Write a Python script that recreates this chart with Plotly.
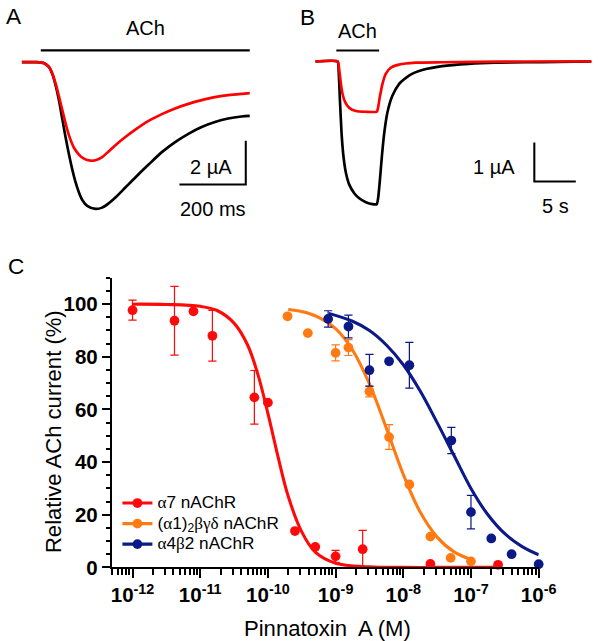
import plotly.graph_objects as go

# reference picture size and rendered figure size (the capture is scaled down by ~0.975)
REF_W, REF_H = 601, 641
W, H = 617, 657
S = W / REF_W

# ---------------- Panel A (time in ms, current in µA) ----------------
a_t_black = [0, 42, 67, 82, 92, 102, 112, 122, 132, 142, 152, 162, 172, 182, 197, 222, 242, 262, 282,
             312, 342, 382, 422, 462, 502, 542, 582, 622, 662, 687]
a_i_black = [0, 0, -0.05, -0.23, -0.54, -1.08, -1.77, -2.62, -3.46, -4.23, -4.92, -5.51, -5.97, -6.31,
             -6.58, -6.72, -6.66, -6.46, -6.20, -5.74, -5.28, -4.69, -4.12, -3.66, -3.28, -2.97, -2.74,
             -2.58, -2.49, -2.46]
a_t_red = [0, 42, 67, 82, 92, 102, 112, 122, 132, 142, 157, 172, 187, 207, 222, 242, 262, 282, 312,
           342, 382, 422, 462, 502, 542, 582, 622, 662, 687]
a_i_red = [0, 0, -0.05, -0.23, -0.54, -1.0, -1.58, -2.2, -2.82, -3.35, -3.92, -4.23, -4.42, -4.51,
           -4.49, -4.35, -4.08, -3.80, -3.43, -3.09, -2.69, -2.38, -2.12, -1.91, -1.74, -1.60, -1.51,
           -1.45, -1.42]
a_ach = [57, 687]          # ACh application (ms)
a_ach_level = 0.54
a_scale_ms = 200
a_scale_ua = 2
a_scale_anchor = [675, -5.6]   # corner of the scale bar (ms, µA)

# ---------------- Panel B (time in s, current in µA) ----------------
b_t_black = [0, 2.68, 2.8, 2.96, 3.16, 3.4, 3.68, 4.08, 4.68, 5.28, 6.08, 6.88, 7.4, 7.56, 7.76, 8.0,
             8.28, 8.68, 9.28, 10.08, 11.28, 12.88, 15.28, 18.48, 21.68, 25.28, 29.28, 33.28]
b_i_black = [0, 0, -0.23, -1.01, -1.87, -2.47, -2.86, -3.16, -3.38, -3.51, -3.61, -3.66, -3.66, -3.51,
             -3.08, -2.47, -1.87, -1.31, -0.88, -0.58, -0.36, -0.22, -0.12, -0.06, -0.03, -0.02, -0.01, 0]
b_t_red = [0, 2.68, 2.88, 3.08, 3.28, 3.6, 4.08, 4.88, 6.08, 7.4, 7.56, 7.76, 8.08, 8.48, 9.08, 10.08,
           12.08, 15.28, 19.28, 25.28, 33.28]
b_i_red = [0, 0, -0.23, -0.58, -0.84, -1.05, -1.19, -1.27, -1.29, -1.29, -1.18, -0.92, -0.58, -0.32,
           -0.16, -0.08, -0.03, -0.02, -0.01, 0, 0]
b_ach = [2.52, 7.68]
b_ach_level = 0.284
b_scale_s = 5
b_scale_ua = 1
b_scale_anchor = [26.4, -3.08]

# ---------------- Panel C (log10 concentration, % current) ----------------
a7_log = [-12.0, -11.38, -11.1, -10.82, -10.2, -10.0, -9.6, -9.3, -9.0, -8.6, -7.6, -6.6]
a7_pct = [97.7, 93.7, 97.3, 88.0, 64.6, 62.6, 13.8, 7.8, 4.2, 6.9, 1.3, 1.0]
a7_err = [3.8, 13.1, 0, 9.6, 10.2, 0, 0, 0, 2.3, 7.2, 0, 0]

a1_log = [-9.71, -9.41, -9.0, -8.81, -8.5, -8.21, -7.91, -7.6, -7.3, -7.0]
a1_pct = [95.4, 89.0, 81.5, 83.5, 66.8, 49.5, 31.5, 11.7, 3.6, 2.3]
a1_err = [0, 0, 3, 3, 2, 4.7, 0, 0, 0, 0]

a4_log = [-9.11, -8.81, -8.5, -8.21, -7.91, -7.29, -7.0, -6.7, -6.4, -6.0]
a4_pct = [94.4, 91.5, 74.9, 78.3, 76.8, 48.2, 21.0, 11.0, 5.0, 1.2]
a4_err = [3.1, 4.3, 6, 0, 8.7, 5, 6.4, 0, 0, 0]

# fitted curves
a7_fit_log = [-12, -11.5, -11, -10.75, -10.5, -10.3, -10.15, -10.0, -9.85, -9.7, -9.5, -9.3, -9.0,
              -8.5, -8.0, -7.5, -7.0, -6.6]
a7_fit_pct = [100, 99.9, 99.2, 97.6, 92.8, 84.5, 73.5, 58.5, 42, 27, 13.5, 5.8, 1.6, 0.2, 0, 0, 0, 0]
a1_fit_log = [-9.7, -9.5, -9.25, -9.0, -8.75, -8.5, -8.25, -8.0, -7.75, -7.5, -7.25, -7.0]
a1_fit_pct = [98.0, 97.2, 95.0, 90.7, 82.6, 69.7, 52.9, 35.3, 21.0, 11.5, 5.9, 3.0]
a4_fit_log = [-9.1, -8.75, -8.5, -8.25, -8.0, -7.75, -7.5, -7.25, -7.0, -6.75, -6.5, -6.25, -6.0]
a4_fit_pct = [96.5, 93.5, 90, 84.5, 77, 67, 55, 42.5, 30, 20, 12.8, 8, 4.8]

x_tick_vals = [1e-12, 1e-11, 1e-10, 1e-9, 1e-8, 1e-7, 1e-6]
x_tick_text = ["10<sup>-12</sup>", "10<sup>-11</sup>", "10<sup>-10</sup>", "10<sup>-9</sup>",
               "10<sup>-8</sup>", "10<sup>-7</sup>", "10<sup>-6</sup>"]
y_tick_vals = [0, 20, 40, 60, 80, 100]

LEG_FS = round(16.8 * S, 1)
SERIF = '<span style="font-family:Liberation Serif">'
legend_names = [SERIF + 'α</span>7 nAChR',
                '(' + SERIF + 'α</span>1)<sub>2</sub>' + SERIF + 'βγδ</span> nAChR',
                SERIF + 'α</span>4' + SERIF + 'β</span>2 nAChR']
names = [f'<span style="font-size:{LEG_FS}px">' + n + '</span>' for n in legend_names]
colors = ["#ff0a0a", "#ff7a12", "#0b1a86"]

RED = "#ff0000"
FONT = "Liberation Sans, Arial, sans-serif"


def px_x(p):
    return p / REF_W


def px_y(p):
    return 1 - p / REF_H


fig = go.Figure()

LW = 2.6 * S
# Panel A
fig.add_trace(go.Scatter(x=a_t_black, y=a_i_black, mode="lines",
                         line=dict(color="black", width=LW, shape="spline", smoothing=0.8),
                         xaxis="x2", yaxis="y2", showlegend=False, hoverinfo="skip"))
fig.add_trace(go.Scatter(x=a_t_red, y=a_i_red, mode="lines",
                         line=dict(color=RED, width=LW, shape="spline", smoothing=0.8),
                         xaxis="x2", yaxis="y2", showlegend=False, hoverinfo="skip"))
# Panel B
fig.add_trace(go.Scatter(x=b_t_black, y=b_i_black, mode="lines",
                         line=dict(color="black", width=LW, shape="spline", smoothing=0.5),
                         xaxis="x3", yaxis="y3", showlegend=False, hoverinfo="skip"))
fig.add_trace(go.Scatter(x=b_t_red, y=b_i_red, mode="lines",
                         line=dict(color=RED, width=LW, shape="spline", smoothing=0.5),
                         xaxis="x3", yaxis="y3", showlegend=False, hoverinfo="skip"))

# Panel C
series = [(a7_log, a7_pct, a7_err, a7_fit_log, a7_fit_pct),
          (a1_log, a1_pct, a1_err, a1_fit_log, a1_fit_pct),
          (a4_log, a4_pct, a4_err, a4_fit_log, a4_fit_pct)]
MS = 9.5 * S
for (lg, pc, er, flg, fpc), nm, col in zip(series, names, colors):
    fig.add_trace(go.Scatter(x=[10 ** v for v in flg], y=fpc, mode="lines",
                             line=dict(color=col, width=3 * S, shape="spline", smoothing=1),
                             showlegend=False, hoverinfo="skip", cliponaxis=False))
    fig.add_trace(go.Scatter(x=[10 ** v for v in lg], y=pc, mode="markers",
                             marker=dict(color=col, size=MS),
                             error_y=dict(type="data", array=er, visible=True, color=col,
                                          thickness=1.2 * S, width=4 * S),
                             showlegend=False, cliponaxis=False))
    fig.add_trace(go.Scatter(x=[None], y=[None], mode="lines+markers", name=nm,
                             line=dict(color=col, width=3 * S), marker=dict(color=col, size=MS)))

shapes = []
BL = 2 * S
# ACh bars
shapes.append(dict(type="line", xref="x2", yref="y2", x0=a_ach[0], x1=a_ach[1], y0=a_ach_level, y1=a_ach_level,
                   line=dict(color="black", width=BL)))
shapes.append(dict(type="line", xref="x3", yref="y3", x0=b_ach[0], x1=b_ach[1], y0=b_ach_level, y1=b_ach_level,
                   line=dict(color="black", width=BL)))
# Scale bars
ax, ay = a_scale_anchor
shapes.append(dict(type="path", xref="x2", yref="y2",
                   path=f"M {ax - a_scale_ms} {ay} L {ax} {ay} L {ax} {ay + a_scale_ua}",
                   line=dict(color="black", width=BL)))
bx, by = b_scale_anchor
shapes.append(dict(type="path", xref="x3", yref="y3",
                   path=f"M {bx + b_scale_s} {by} L {bx} {by} L {bx} {by + b_scale_ua}",
                   line=dict(color="black", width=BL)))

txt = dict(family=FONT, size=19.5 * S, color="black")
big = dict(family=FONT, size=22 * S, color="black")
ttl = dict(family=FONT, size=21.5 * S, color="black")
C = dict(xanchor="center", yanchor="middle", showarrow=False)
annotations = [
    dict(text="A", x=px_x(13), y=px_y(16), xref="paper", yref="paper", font=big, **C),
    dict(text="B", x=px_x(308), y=px_y(17), xref="paper", yref="paper", font=big, **C),
    dict(text="C", x=px_x(15), y=px_y(264), xref="paper", yref="paper", font=big, **C),
    dict(text="ACh", x=(a_ach[0] + a_ach[1]) / 2, y=a_ach_level, xref="x2", yref="y2", showarrow=False,
         xanchor="center", yanchor="bottom", yshift=9 * S, font=txt),
    dict(text="ACh", x=(b_ach[0] + b_ach[1]) / 2, y=b_ach_level, xref="x3", yref="y3", showarrow=False,
         xanchor="center", yanchor="bottom", yshift=6 * S, font=txt),
    dict(text="2 µA", x=ax, y=ay + a_scale_ua / 2, xref="x2", yref="y2", showarrow=False,
         xanchor="right", yanchor="middle", xshift=-11 * S, yshift=-4 * S, font=txt),
    dict(text="200 ms", x=ax - a_scale_ms / 2, y=ay, xref="x2", yref="y2", showarrow=False,
         xanchor="center", yanchor="top", yshift=-11 * S, font=txt),
    dict(text="1 µA", x=bx, y=by + b_scale_ua / 2, xref="x3", yref="y3", showarrow=False,
         xanchor="right", yanchor="middle", xshift=-17 * S, yshift=-5 * S, font=txt),
    dict(text="5 s", x=bx + b_scale_s / 2, y=by, xref="x3", yref="y3", showarrow=False,
         xanchor="center", yanchor="top", yshift=-11 * S, font=txt),
    dict(text="Relative ACh current (%)", x=px_x(53), y=px_y(428), xref="paper", yref="paper",
         textangle=-90, font=ttl, **C),
    dict(text="Pinnatoxin\u00a0 A (M)", x=px_x(328), y=px_y(624), xref="paper", yref="paper",
         font=ttl, **C),
]

minor_x = [m * 10.0 ** e for e in range(-13, -6) for m in range(2, 10) if 5e-13 <= m * 10.0 ** e <= 1e-6]
TF = dict(family=FONT, size=20 * S, color="black", weight="bold")

fig.update_layout(
    width=W, height=H, autosize=False,
    margin=dict(l=0, r=0, t=0, b=0),
    paper_bgcolor="white", plot_bgcolor="white",
    font=dict(family=FONT, color="black"),
    shapes=shapes, annotations=annotations,
    xaxis=dict(type="log", domain=[px_x(111.7), px_x(540.5)], range=[-12.301, -5.998],
               showline=True, linecolor="black", linewidth=2 * S, showgrid=False, zeroline=False,
               tickmode="array", tickvals=x_tick_vals, ticktext=x_tick_text,
               ticks="outside", ticklen=8 * S, tickwidth=2 * S, tickcolor="black",
               tickfont=TF,
               minor=dict(tickmode="array", tickvals=minor_x, ticks="outside", ticklen=5 * S,
                          tickwidth=1.5 * S, tickcolor="black", showgrid=False),
               anchor="y"),
    yaxis=dict(domain=[px_y(563), px_y(275.7)], range=[0, 110],
               showline=True, linecolor="black", linewidth=2 * S, showgrid=False, zeroline=False,
               tickmode="array", tickvals=y_tick_vals,
               ticks="outside", ticklen=8 * S, tickwidth=2 * S, tickcolor="black",
               tickfont=TF,
               minor=dict(dtick=5, ticks="outside", ticklen=4 * S, tickwidth=1.5 * S,
                          tickcolor="black", showgrid=False),
               anchor="x"),
    xaxis2=dict(domain=[px_x(10), px_x(260)], range=[-33, 717], visible=False, anchor="y2"),
    yaxis2=dict(domain=[px_y(215), px_y(40)], range=[-7.075, 1.0], visible=False, anchor="x2"),
    xaxis3=dict(domain=[px_x(305), px_x(600)], range=[-1.32, 34.08], visible=False, anchor="y3"),
    yaxis3=dict(domain=[px_y(215), px_y(40)], range=[-3.982, 0.543], visible=False, anchor="x3"),
    legend=dict(x=px_x(117), y=px_y(484), xanchor="left", yanchor="top", bgcolor="rgba(0,0,0,0)",
                font=dict(family=FONT, size=13.5, color="black"), itemwidth=30, tracegroupgap=0),
    showlegend=True,
)

fig.write_html("out.html", config={"displayModeBar": False},
               post_script="document.body.style.margin='0px';document.body.style.overflow='hidden';")
